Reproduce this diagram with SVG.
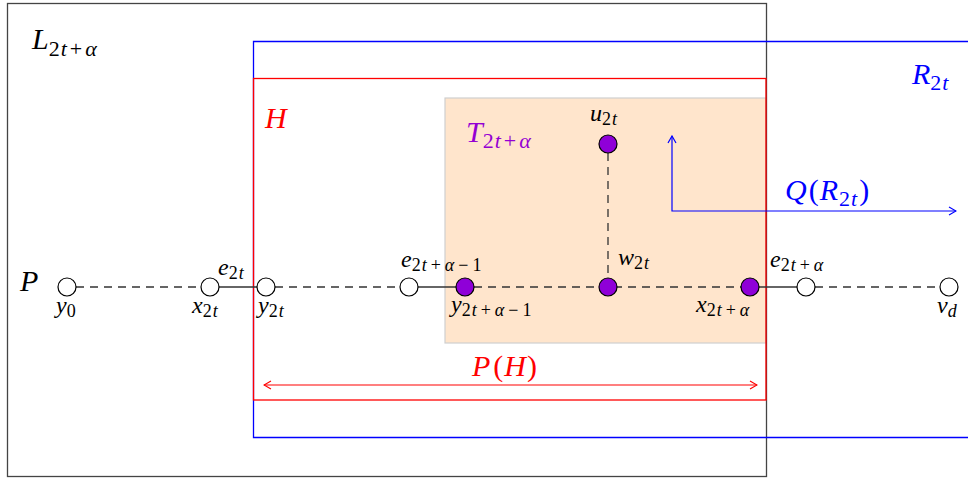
<svg xmlns="http://www.w3.org/2000/svg" width="968" height="479" viewBox="0 0 968 479">
<defs>
<style>
.m{font-family:"Liberation Serif","Times New Roman",serif;font-style:italic}
.big{font-size:30px}
.sm{font-size:24px}
.up{font-style:normal}
.s1{font-size:18px;letter-spacing:1px}
.s2{font-size:22px;letter-spacing:1px}
.edge{stroke:#333;stroke-width:1.3;fill:none}
.dash{stroke:#333;stroke-width:1.3;fill:none;stroke-dasharray:8 6}
.wn{fill:#fff;stroke:#000;stroke-width:1.2}
.pn{fill:#8F00D8;stroke:#000;stroke-width:1.2}
</style>
<marker id="abB" viewBox="0 0 10 10" refX="9" refY="5" markerWidth="10" markerHeight="10" markerUnits="userSpaceOnUse" orient="auto-start-reverse">
<path d="M2,1 L9,5 L2,9" fill="none" stroke="#0000FF" stroke-width="1.2"/>
</marker>
<marker id="abR" viewBox="0 0 10 10" refX="9" refY="5" markerWidth="10" markerHeight="10" markerUnits="userSpaceOnUse" orient="auto-start-reverse">
<path d="M2,1 L9,5 L2,9" fill="none" stroke="#FF0000" stroke-width="1.2"/>
</marker>
</defs>
<rect width="968" height="479" fill="#fff"/>

<g id="T-region">
<rect x="445" y="98" width="321" height="245" fill="#FFE5CC" stroke="#cfcfcf" stroke-width="1.2"/>
<text class="m big" x="466" y="142" fill="#9400D3">T<tspan class="s2" dy="6"><tspan class="up">2</tspan>t<tspan class="up" dx="2">+</tspan><tspan dx="2">α</tspan></tspan></text>
</g>

<g id="L-box">
<rect x="7.5" y="3.5" width="759" height="473" fill="none" stroke="#444" stroke-width="1.3"/>
<text class="m big" x="32" y="49" fill="#000">L<tspan class="s2" dy="7"><tspan class="up">2</tspan>t<tspan class="up" dx="2">+</tspan><tspan dx="2">α</tspan></tspan></text>
</g>

<g id="R-box">
<path d="M968,41.5 H253.5 V437.5 H968" fill="none" stroke="#0000FF" stroke-width="1.3"/>
<text class="m big" x="912" y="84" fill="#0000FF">R<tspan class="s2" dy="6"><tspan class="up">2</tspan>t</tspan></text>
</g>

<g id="H-box">
<rect x="253.5" y="78.5" width="512.5" height="321.5" fill="none" stroke="#FF0000" stroke-width="1.3"/>
<text class="m big" x="265" y="128" fill="#FF0000">H</text>
</g>

<g id="connectors">
<line class="dash" x1="76" y1="287" x2="201" y2="287"/>
<line class="edge" x1="219" y1="287" x2="257" y2="287"/>
<line class="dash" x1="275" y1="287" x2="400" y2="287"/>
<line class="edge" x1="418" y1="287" x2="456" y2="287"/>
<line class="dash" x1="474" y1="287" x2="741" y2="287"/>
<line class="edge" x1="759" y1="287" x2="797" y2="287"/>
<line class="dash" x1="815" y1="287" x2="940" y2="287"/>
<line class="dash" x1="608" y1="153" x2="608" y2="278"/>
<path d="M672,136 V211 H956" fill="none" stroke="#0000FF" stroke-width="1.2" marker-start="url(#abB)" marker-end="url(#abB)"/>
<line x1="264" y1="385" x2="757" y2="385" stroke="#FF0000" stroke-width="1.2" marker-start="url(#abR)" marker-end="url(#abR)"/>
</g>

<g id="label-P"><text class="m big" x="20" y="291">P</text></g>
<g id="label-QR"><text class="m big" x="785" y="200" fill="#0000FF" letter-spacing="1">Q<tspan class="up" dx="1">(</tspan>R<tspan class="s2" dy="6"><tspan class="up">2</tspan>t</tspan><tspan class="up" dy="-6" dx="1">)</tspan></text></g>
<g id="label-PH"><text class="m big" x="472" y="376" fill="#FF0000" letter-spacing="1">P<tspan class="up" dx="2">(</tspan>H<tspan class="up">)</tspan></text></g>
<g id="label-e2t"><text class="m sm" x="218" y="275">e<tspan class="s1" dy="4"><tspan class="up">2</tspan>t</tspan></text></g>
<g id="label-e2ta1"><text class="m sm" x="401" y="267">e<tspan class="s1" dy="4"><tspan class="up">2</tspan>t<tspan class="up" dx="3">+</tspan><tspan dx="3">α</tspan><tspan class="up" dx="3">−</tspan><tspan class="up" dx="3">1</tspan></tspan></text></g>
<g id="label-e2ta"><text class="m sm" x="770" y="267">e<tspan class="s1" dy="4"><tspan class="up">2</tspan>t<tspan class="up" dx="3">+</tspan><tspan dx="3">α</tspan></tspan></text></g>

<g id="node-y0"><circle class="wn" cx="67" cy="287" r="9"/><text class="m sm" x="56" y="313">y<tspan class="up s1" dy="4">0</tspan></text></g>
<g id="node-x2t"><circle class="wn" cx="210" cy="287" r="9"/><text class="m sm" x="192" y="313">x<tspan class="s1" dy="4"><tspan class="up">2</tspan>t</tspan></text></g>
<g id="node-y2t"><circle class="wn" cx="266" cy="287" r="9"/><text class="m sm" x="258" y="313">y<tspan class="s1" dy="4"><tspan class="up">2</tspan>t</tspan></text></g>
<g id="node-e"><circle class="wn" cx="409" cy="287" r="9"/></g>
<g id="node-y2ta1"><circle class="pn" cx="465" cy="287" r="9"/><text class="m sm" x="451" y="312">y<tspan class="s1" dy="4"><tspan class="up">2</tspan>t<tspan class="up" dx="3">+</tspan><tspan dx="3">α</tspan><tspan class="up" dx="3">−</tspan><tspan class="up" dx="3">1</tspan></tspan></text></g>
<g id="node-w2t"><circle class="pn" cx="608" cy="287" r="9"/><text class="m sm" x="618" y="265">w<tspan class="s1" dy="4"><tspan class="up">2</tspan>t</tspan></text></g>
<g id="node-u2t"><circle class="pn" cx="608" cy="144" r="9"/><text class="m sm" x="590" y="121">u<tspan class="s1" dy="4"><tspan class="up">2</tspan>t</tspan></text></g>
<g id="node-x2ta"><circle class="pn" cx="750" cy="287" r="9"/><text class="m sm" x="696" y="312">x<tspan class="s1" dy="4"><tspan class="up">2</tspan>t<tspan class="up" dx="3">+</tspan><tspan dx="3">α</tspan></tspan></text></g>
<g id="node-f"><circle class="wn" cx="806" cy="287" r="9"/></g>
<g id="node-vd"><circle class="wn" cx="949" cy="287" r="9"/><text class="m sm" x="937" y="313">v<tspan class="s1" dy="4">d</tspan></text></g>
</svg>
